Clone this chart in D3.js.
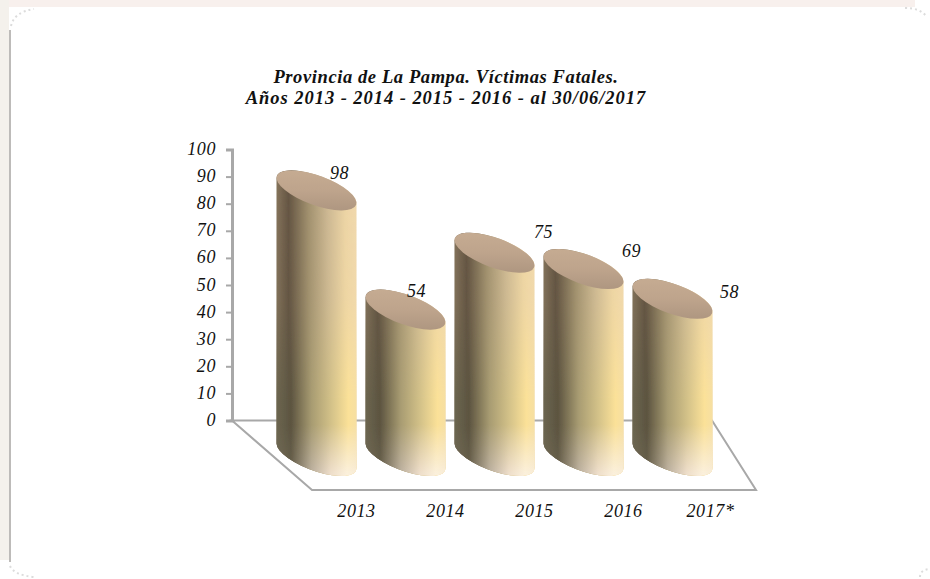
<!DOCTYPE html>
<html><head><meta charset="utf-8">
<script src="https://cdn.jsdelivr.net/npm/d3@7"></script>
<style>
html,body{margin:0;padding:0;background:#fff}
svg{display:block}
text{font-family:"Liberation Serif",serif;font-style:italic;fill:#111}
</style></head><body>
<svg id="c" width="930" height="579"></svg>
<script>
const titleLines = ["Provincia de La Pampa. Víctimas Fatales.", "Años 2013 - 2014 - 2015 - 2016 - al 30/06/2017"];
const categories = ["2013", "2014", "2015", "2016", "2017*"];
const values = [98, 54, 75, 69, 58];
const yTicks = [0, 10, 20, 30, 40, 50, 60, 70, 80, 90, 100];
const labelDx = [23, 11, 49, 48, 57];
const labelDy = [-11, -13, -15, -12, -1];
const titleSpacing = [0.6, 0.95];

const svg = d3.select("#c");
const defs = svg.append("defs");

// page frame
svg.append("rect").attr("width",930).attr("height",579).attr("fill","#fff");
svg.append("rect").attr("width",915).attr("height",7).attr("fill","#f8f0ed");
svg.append("rect").attr("width",9).attr("height",560).attr("fill","#f4f1ec");
svg.append("rect").attr("x",9).attr("y",30).attr("width",2).attr("height",532).attr("fill","#bdbbb9");
const corners = svg.append("g").attr("fill","none").attr("stroke","#dcdcdc").attr("stroke-width",2).attr("stroke-dasharray","2 3");
["M11,26 Q14,12 34,9","M905,8 Q920,8 926,16","M10,566 Q14,575 34,577","M920,577 Q920,570 929,569"]
  .forEach(p=>corners.append("path").attr("d",p));

const y = d3.scaleLinear().domain([0,100]).range([420.5,149.5]);
const x = d3.scaleBand().domain(categories).range([272,717]).paddingInner(0.1).paddingOuter(0.05);
const depthY = 36, bw = 80, hw = bw/2;
const a = 42.2, b = 14.8, rot = 20, tang = 12.5;

// floor
const axisCol = "#a8a8a8";
svg.append("path").attr("fill","none").attr("stroke",axisCol).attr("stroke-width",2)
  .attr("d",`M232,${y(0)} L712,${y(0)} L756,490 L312,490 Z`);

// y axis
const axG = svg.append("g").attr("transform","translate(232,0)")
  .call(d3.axisLeft(y).tickValues(yTicks).tickSize(6).tickPadding(10));
axG.select(".domain").attr("stroke",axisCol).attr("stroke-width",3);
axG.selectAll(".tick line").attr("stroke",axisCol).attr("stroke-width",2);
axG.selectAll("text").attr("dy",5).style("font-size","18px").style("letter-spacing","0.6px").attr("fill","#111");

// gradients
function hGrad(id, stops){
  const g = defs.append("linearGradient").attr("id",id);
  stops.forEach(s=>g.append("stop").attr("offset",s[0]).attr("stop-color",s[1]));
}
hGrad("upper",[[0,"#86745c"],[.15,"#665644"],[.4,"#a2916f"],[.64,"#cdb894"],[.86,"#ecd4a6"],[1,"#f0d8ae"]]);
hGrad("middle",[[0,"#6c6650"],[.18,"#5c5440"],[.44,"#a89c72"],[.7,"#d6c48a"],[.9,"#fbe198"],[1,"#f6dfa2"]]);
hGrad("lower",[[0,"#706a58"],[.18,"#68604c"],[.44,"#bdb1a1"],[.68,"#eedecb"],[.88,"#fbf0dc"],[1,"#f8ecd8"]]);
function vMask(id, stops){
  const g = defs.append("linearGradient").attr("id",id+"G").attr("gradientUnits","userSpaceOnUse")
    .attr("x1",0).attr("x2",0).attr("y1",170).attr("y2",480);
  stops.forEach(s=>g.append("stop").attr("offset",s[0]).attr("stop-color","#fff").attr("stop-opacity",s[1]));
  defs.append("mask").attr("id",id).attr("maskUnits","userSpaceOnUse")
    .attr("x",0).attr("y",0).attr("width",930).attr("height",579)
    .append("rect").attr("width",930).attr("height",579).attr("fill",`url(#${id}G)`);
}
vMask("mMid",[[0,0],[.42,.2],[.74,1],[1,1]]);
vMask("mLow",[[0,0],[.82,0],[.98,1],[1,1]]);
const cap = defs.append("linearGradient").attr("id","cap").attr("x1",0).attr("x2",1).attr("y1",0).attr("y2",1);
[[0,"#c8ae94"],[.5,"#bea48c"],[1,"#a8917c"]]
 .forEach(s=>cap.append("stop").attr("offset",s[0]).attr("stop-color",s[1]));
defs.append("filter").attr("id","soft").attr("x","-5%").attr("y","-5%").attr("width","110%").attr("height","110%")
  .append("feGaussianBlur").attr("stdDeviation",0.6);

const baseY = y(0) + depthY - 0.5;
const data = categories.map((c,i)=>({c,v:values[i]}));
const bars = svg.append("g").attr("filter","url(#soft)").selectAll("g").data(data).join("g");
const cxOf = d => x(d.c)+x.bandwidth()/2;
const cyOf = d => baseY-(y(0)-y(d.v));
const bodyPath = d => {
  const cx=cxOf(d), t=cyOf(d);
  return `M${cx-hw},${t-tang} L${cx-hw},${baseY-tang} A${a},${b} ${rot} 0 0 ${cx+hw},${baseY+tang} L${cx+hw},${t+tang} A${a},${b} ${rot} 0 0 ${cx-hw},${t-tang} Z`;
};
bars.append("path").attr("d",bodyPath).attr("fill","url(#upper)");
bars.append("path").attr("d",bodyPath).attr("fill","url(#middle)").attr("mask","url(#mMid)");
bars.append("path").attr("d",bodyPath).attr("fill","url(#lower)").attr("mask","url(#mLow)");
bars.append("ellipse")
  .attr("rx",a).attr("ry",b)
  .attr("transform",d=>`translate(${cxOf(d)},${cyOf(d)}) rotate(${rot})`)
  .attr("fill","url(#cap)");

// value labels
svg.append("g").selectAll("text").data(data).join("text")
  .attr("x",(d,i)=>cxOf(d)+labelDx[i]).attr("y",(d,i)=>cyOf(d)+labelDy[i])
  .attr("text-anchor","middle").style("font-size","18px").style("letter-spacing","0.6px").text(d=>d.v);

// category labels
svg.append("g").selectAll("text").data(data).join("text")
  .attr("x",d=>cxOf(d)+(d.c==="2017*"?38:40))
  .attr("y",517).attr("text-anchor","middle").style("font-size","18px").style("letter-spacing","0.6px").text(d=>d.c);

// title
svg.append("g").selectAll("text").data(titleLines).join("text")
  .attr("x",446).attr("y",(d,i)=>83+i*21).attr("text-anchor","middle")
  .style("font-size","18.5px").style("font-weight","bold").style("letter-spacing",(d,i)=>titleSpacing[i]+"px").text(d=>d);
</script></body></html>
